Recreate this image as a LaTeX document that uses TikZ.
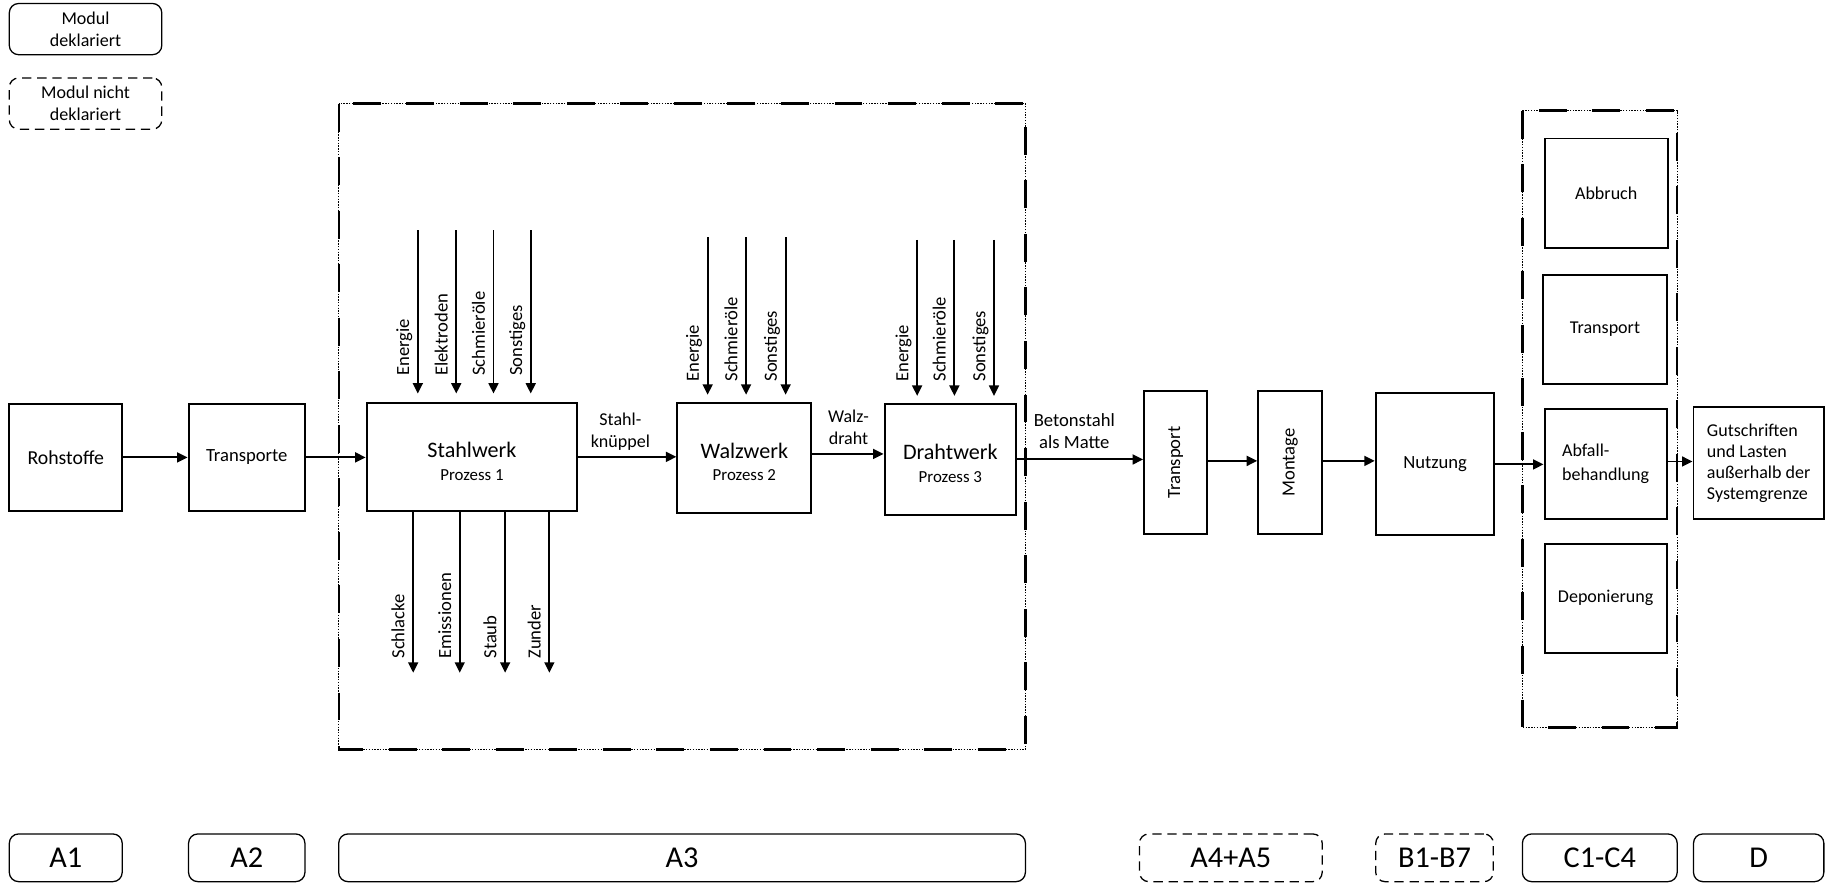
\documentclass[tikz,border=0pt]{standalone}
\usepackage{fontspec}
\setmainfont{Carlito}
\usetikzlibrary{arrows.meta}
\begin{document}
\begin{tikzpicture}[x=1pt,y=-1pt,
  box/.style={draw, line width=1.7pt, inner sep=0pt, align=center},
  arr/.style={line width=1.7pt, -{Triangle[length=9pt,width=8.5pt]}},
  vlbl/.style={rotate=90, anchor=base west, inner sep=0pt, font=\fontsize{16}{19}\selectfont},
  flbl/.style={inner sep=0pt, align=center, font=\fontsize{15.5}{18.5}\selectfont},
  mod/.style={draw, line width=1.1pt, rounded corners=8pt, inner sep=0pt, align=center},
  modd/.style={mod, dash pattern=on 8pt off 5pt},
  bound/.style={line width=0.9pt, dash pattern=on 1.2pt off 1.2pt,
    postaction={draw, line width=2pt, dash pattern=on 24pt off 22pt}},
  mid/.style={font=\fontsize{16}{19}\selectfont},
  leg/.style={font=\fontsize{15.5}{18.6}\selectfont},
  mlab/.style={font=\fontsize{26}{30}\selectfont},
  proc/.style={box, font=\fontsize{14.5}{18}\selectfont}
]
\useasboundingbox (0,0) rectangle (1568,759);

% legend
\node[mod, leg, minimum width=131pt, minimum height=44pt] (leg1) at (73.5,25) {Modul\\deklariert};
\node[modd, leg, minimum width=131pt, minimum height=44pt] (leg2) at (73.5,89) {Modul nicht\\deklariert};

% system boundaries
\draw[bound] (291,89) rectangle (881,644);
\draw[bound] (1308,95) rectangle (1441,625);

% main boxes
\node[box, minimum width=97pt, minimum height=92pt, font=\fontsize{17}{20}\selectfont] (roh) at (56.5,393) {Rohstoffe};
\node[box, minimum width=100pt, minimum height=92pt, mid] (trans) at (212,393) {Transporte};
\node[proc, minimum width=181pt, minimum height=93pt] (stahl) at (405.5,392.5)
  {{\fontsize{19}{21}\selectfont\rule{0pt}{21pt}Stahlwerk}\\[1pt]Prozess 1};
\node[proc, minimum width=115pt, minimum height=95pt] (walz) at (639.5,393.5)
  {{\fontsize{19}{21}\selectfont\rule{0pt}{20pt}Walzwerk}\\[1pt]Prozess 2};
\node[proc, minimum width=113pt, minimum height=95.5pt] (draht) at (816.5,394.75)
  {{\fontsize{19}{21}\selectfont\rule{0pt}{20pt}Drahtwerk}\\[2pt]Prozess 3};
\node[box, minimum width=54pt, minimum height=123pt, mid] (tr2) at (1010,397.5) {\rotatebox{90}{Transport}};
\node[box, minimum width=55pt, minimum height=123pt, mid] (mont) at (1108.5,397.5) {\rotatebox{90}{Montage}};
\node[box, minimum width=102pt, minimum height=122pt, mid] (nutz) at (1233,399) {Nutzung};

% C modules
\node[box, minimum width=106pt, minimum height=94pt, leg] (abb) at (1380,166) {Abbruch};
\node[box, minimum width=106pt, minimum height=94pt, leg] (tr3) at (1379,283) {Transport};
\node[box, minimum width=105pt, minimum height=95pt, align=left, font=\fontsize{15.5}{21}\selectfont] (abf) at (1379.5,398.5) {Abfall-\\behandlung};
\node[box, minimum width=105pt, minimum height=94pt, leg] (dep) at (1379.5,514) {Deponierung};
\node[box, minimum width=112pt, minimum height=96pt, align=left, font=\fontsize{15.5}{18}\selectfont] (gut) at (1511,398)
  {Gutschriften\\und Lasten\\außerhalb der\\Systemgrenze};

% main flow arrows
\draw[arr] (roh.east) -- (roh.east -| trans.west);
\draw[arr] (trans.east) -- (trans.east -| stahl.west);
\draw[arr] (stahl.east) -- (stahl.east -| walz.west);
\draw[arr] ([yshift=3.5pt]walz.east) -- ([yshift=3.5pt]walz.east -| draht.west);
\draw[arr] (draht.east) -- (draht.east -| tr2.west);
\draw[arr] ([yshift=1.5pt]tr2.east) -- ([yshift=1.5pt]tr2.east -| mont.west);
\draw[arr] ([yshift=1.5pt]mont.east) -- ([yshift=1.5pt]mont.east -| nutz.west);
\draw[arr] (nutz.east) -- (nutz.east -| abf.west);
\draw[arr] ([yshift=2pt]abf.east) -- ([yshift=2pt]abf.east -| gut.west);

% flow labels
\node[flbl] (lsk) at (533,371) {Stahl-\\knüppel};
\node[flbl] (lwd) at (729,367) {Walz-\\draht};
\node[flbl, font=\fontsize{16}{19}\selectfont] (lbm) at (923,370.5) {Betonstahl\\als Matte};

% Stahlwerk inputs
\foreach \x/\t [count=\i] in {359/Energie, 392/Elektroden, 424/Schmieröle, 456/Sonstiges} {
  \coordinate (sin\i) at (\x,198);
  \draw[arr, shorten >=7pt] (sin\i) -- (sin\i |- stahl.north);
  \node[vlbl] (sinl\i) at (\x-7.5,323) {\t};
}
% Stahlwerk outputs
\foreach \x/\t [count=\i] in {355/Schlacke, 395/Emissionen, 434/Staub, 472/Zunder} {
  \coordinate (sout\i) at (\x,578);
  \draw[arr] (stahl.south -| sout\i) -- (sout\i);
  \node[vlbl] (soutl\i) at (\x-7.5,566) {\t};
}
% Walzwerk inputs
\foreach \x/\t [count=\i] in {608/Energie, 641/Schmieröle, 675/Sonstiges} {
  \coordinate (win\i) at (\x,204);
  \draw[arr, shorten >=6pt] (win\i) -- (win\i |- walz.north);
  \node[vlbl] (winl\i) at (\x-7.5,328) {\t};
}
% Drahtwerk inputs
\foreach \x/\t [count=\i] in {788/Energie, 820/Schmieröle, 854/Sonstiges} {
  \coordinate (din\i) at (\x,206);
  \draw[arr, shorten >=6pt] (din\i) -- (din\i |- draht.north);
  \node[vlbl] (dinl\i) at (\x-7.5,328) {\t};
}

% module labels
\node[mod, mlab, minimum width=97pt, minimum height=41pt] (ma1) at (56.5,737) {A1};
\node[mod, mlab, minimum width=100pt, minimum height=41pt] (ma2) at (212,737) {A2};
\node[mod, mlab, minimum width=590pt, minimum height=41pt] (ma3) at (586,737) {A3};
\node[modd, mlab, minimum width=157pt, minimum height=41pt] (ma45) at (1057.5,737) {A4+A5};
\node[modd, mlab, minimum width=101pt, minimum height=41pt] (mb) at (1232.5,737) {B1-B7};
\node[mod, mlab, minimum width=133pt, minimum height=41pt] (mc) at (1374.5,737) {C1-C4};
\node[mod, mlab, minimum width=112pt, minimum height=41pt] (md) at (1511,737) {D};
\end{tikzpicture}
\end{document}
